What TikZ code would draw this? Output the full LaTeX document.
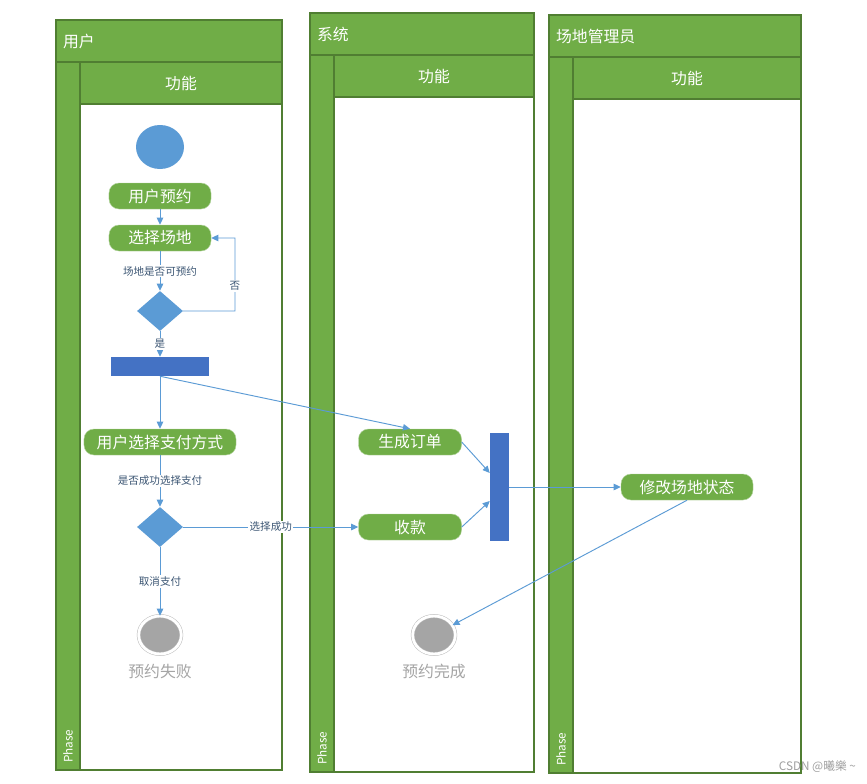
\documentclass[tikz,border=0pt]{standalone}
\usepackage{fontspec}
\setmainfont{Noto Sans CJK SC}
\usetikzlibrary{positioning, arrows.meta, shapes.geometric}

\definecolor{lanegreen}{HTML}{70AD47}
\definecolor{laneedge}{HTML}{507E32}
\definecolor{flowblue}{HTML}{5B9BD5}
\definecolor{barblue}{HTML}{4472C4}
\definecolor{endgray}{HTML}{A5A5A5}
\definecolor{labelink}{HTML}{3B5573}

\tikzset{
  lanebox/.style={draw=laneedge, line width=1pt},
  lanetitle/.style={text=white, font=\fontsize{13.5}{15}\selectfont},
  act/.style={rectangle, rounded corners=0.3cm, fill=lanegreen, draw=lanegreen!55,
    text=white, minimum height=0.78cm, font=\fontsize{13.5}{16}\selectfont},
  startst/.style={ellipse, fill=flowblue, minimum width=1.44cm, minimum height=1.32cm},
  dec/.style={diamond, fill=flowblue, inner sep=0pt, minimum width=1.38cm, minimum height=1.2cm},
  forkbar/.style={rectangle, fill=barblue, inner sep=0pt},
  endst/.style={ellipse, fill=endgray, draw=gray!55, double=white, double distance=2.4pt,
    minimum width=1.28cm, minimum height=1.14cm},
  endlbl/.style={text=endgray, font=\fontsize{13.5}{16}\selectfont},
  lbl/.style={fill=white, text=labelink, inner sep=1pt, font=\fontsize{9}{11}\selectfont},
  flow/.style={draw=flowblue, line width=0.8pt, ->}
}

\begin{document}
\begin{tikzpicture}[x=0.03cm, y=-0.03cm, on grid, >={Triangle[width=5.5pt,length=6pt]}]
    \useasboundingbox (0,0) rectangle (867,784);

    % Define lanes
    \foreach \xa/\xb/\ya/\yb/\name [count=\i] in
        {56/282/20/770/用户, 310/534/13/772/系统, 549/801/15/773/场地管理员}{
      \draw[lanebox, fill=white] (\xa,\ya) rectangle (\xb,\yb);
      \draw[lanebox, fill=lanegreen] (\xa,\ya) rectangle (\xb,\ya+42);
      \draw[lanebox, fill=lanegreen] (\xa,\ya+42) rectangle (\xa+24,\yb);
      \draw[lanebox, fill=lanegreen] (\xa+24,\ya+42) rectangle (\xb,\ya+84);
      \node[lanetitle, anchor=west] (title\i) at (\xa+3,\ya+21) {\name};
      \node[lanetitle] (func\i) at ({(\xa+24+\xb)/2},\ya+63) {功能};
      \node[lanetitle, font=\fontsize{10}{12}\selectfont, rotate=90, anchor=west]
        (phase\i) at (\xa+12,\yb-3) {Phase};
    }

    % Define states
    \node[startst] (start) at (160,147) {};
    \node[act, minimum width=3.06cm] (book) at (160,196) {用户预约};
    \node[act, minimum width=3.06cm, below=1.26cm of book] (pick) {选择场地};
    \node[dec, below=2.19cm of pick] (free) {};
    \node[forkbar, minimum width=2.94cm, minimum height=0.57cm] (fork) at (160,366.5) {};
    \node[act, minimum width=4.56cm] (paysel) at (160,442) {用户选择支付方式};
    \node[dec, below=2.55cm of paysel] (paid) {};
    \node[endst] (fail) at (160,635) {};
    \node[endlbl, below=1.08cm of fail] (faillbl) {预约失败};

    \node[act, minimum width=3.09cm] (order) at (410,442) {生成订单};
    \node[act, minimum width=3.09cm, below=2.55cm of order] (collect) {收款};
    \node[forkbar, minimum width=0.57cm, minimum height=3.24cm] (join) at (499.5,487) {};
    \node[endst] (done) at (434,635) {};
    \node[endlbl, below=1.08cm of done] (donelbl) {预约完成};

    \node[act, minimum width=3.96cm] (update) at (687,487) {修改场地状态};

    \node[text=gray!75, anchor=east, font=\fontsize{10}{12}\selectfont] (mark) at (860,767)
      {CSDN @曦樂 \textasciitilde};

    % Define transitions
    \coordinate (back) at (235,311);
    \draw[flow] (book) -- (pick);
    \draw[flow] (pick) -- node[lbl] {场地是否可预约} (free);
    \draw[flow] (free.east) -- (back) |- node[lbl, pos=0.17] {否} (pick.east);
    \draw[flow] (free) -- node[lbl] {是} (fork);
    \draw[flow] (fork) -- (paysel);
    \draw[flow] (fork.south) -- (order.north);
    \draw[flow] (paysel) -- node[lbl] {是否成功选择支付} (paid);
    \draw[flow] (paid) -- node[lbl] {选择成功} (collect);
    \draw[flow] (paid) -- node[lbl] {取消支付} (fail);
    \draw[flow] (order.east) -- ([yshift=0.42cm]join.west);
    \draw[flow] (collect.east) -- ([yshift=-0.42cm]join.west);
    \draw[flow] (join) -- (update);
    \draw[flow] (update.south) -- (done);
\end{tikzpicture}
\end{document}
